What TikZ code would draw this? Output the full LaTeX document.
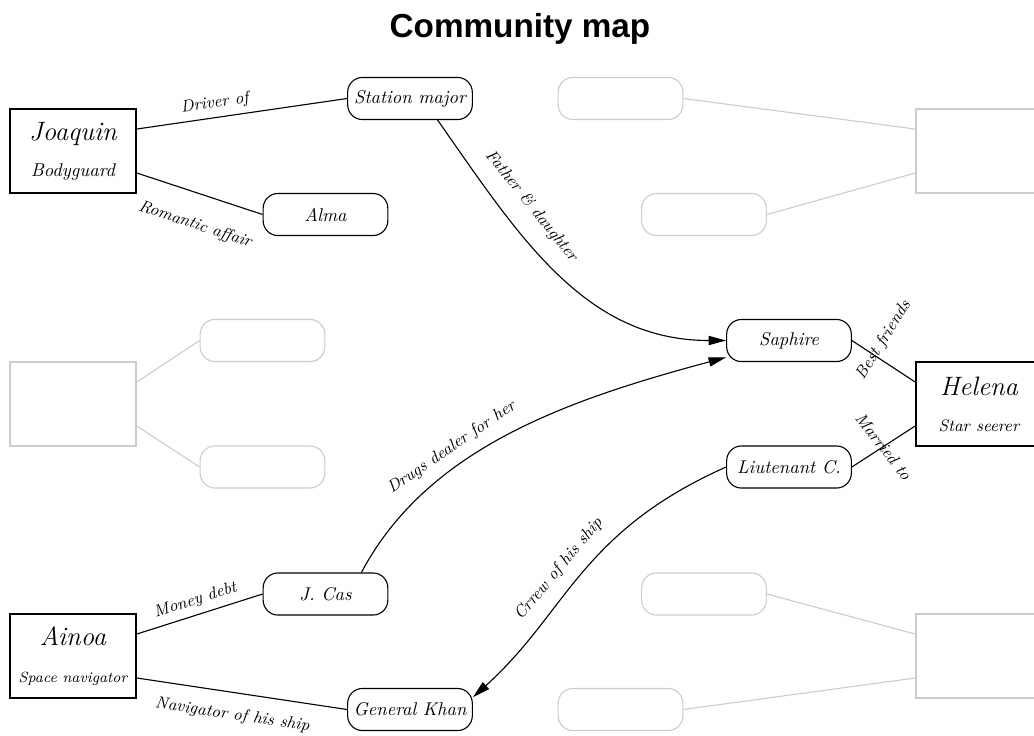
\documentclass[tikz,border=0pt]{standalone}
\usepackage{fontspec}
\newfontfamily\titlefont{Liberation Sans}
\usetikzlibrary{arrows.meta}
\begin{document}
\begin{tikzpicture}[x=0.019011cm, y=0.019011cm,
  rnode/.style={draw, rounded corners=8pt, minimum width=2.37cm, minimum height=0.8cm, font=\itshape, line width=0.6pt, inner sep=1pt},
  bigbox/.style={draw, line width=1.1pt, minimum width=2.39cm, minimum height=1.6cm, align=center, font=\itshape, inner sep=1pt},
  grayr/.style={rnode, draw=black!20},
  grayb/.style={bigbox, draw=black!20},
  link/.style={line width=0.6pt},
  glink/.style={draw=black!20, line width=0.6pt},
  arr/.style={link, -{Triangle[length=9.5pt,width=5pt]}},
  lbl/.style={font=\small\itshape},
  ttl/.style={font=\titlefont\bfseries\fontsize{18}{22}\selectfont, anchor=base, inner sep=0pt}]
\useasboundingbox (0,0) rectangle (1034,-735);
\node[ttl] (title) at (520,-37) {Community map};

\node[bigbox] (joaquin) at (73,-151) {{\Large Joaquin}\\[7.5pt]Bodyguard};
\node[rnode] (station) at (410,-98.5) {Station major};
\node[rnode] (alma) at (325.5,-214.5) {Alma};

\node[grayb] (gtr) at (979,-151) {};
\node[grayr] (ga) at (620.5,-98.5) {};
\node[grayr] (gb) at (704,-214.5) {};

\node[grayb] (gl) at (73,-404) {};
\node[grayr] (gla) at (262.5,-340.5) {};
\node[grayr] (glb) at (262.5,-467) {};

\node[bigbox] (helena) at (979,-404) {{\Large Helena}\\[7.5pt]{\small Star seerer}};
\node[rnode] (saphire) at (789,-340.5) {Saphire};
\node[rnode] (liut) at (789,-467) {Liutenant C.};

\node[bigbox] (ainoa) at (73,-656) {{\Large Ainoa}\\[8pt]{\footnotesize Space navigator}};
\node[rnode] (jcas) at (325.5,-594) {J. Cas};
\node[rnode] (khan) at (410,-709.5) {General Khan};

\node[grayb] (gbr) at (979,-656) {};
\node[grayr] (gc) at (704,-594) {};
\node[grayr] (gd) at (620.5,-709.5) {};

\draw[link] (joaquin.19) -- (station.west) node[lbl, sloped, above, pos=.38] {Driver of};
\draw[link] (joaquin.-19) -- (alma.west) node[lbl, sloped, below=9pt, pos=.54] {Romantic affair};
\draw[arr] (station.-38) to[out=-55, in=180] node[lbl, sloped, above=6pt, pos=.31] {Father \& daughter} (saphire.west);
\draw[arr] (jcas.31) to[out=62, in=195, out looseness=0.85] node[lbl, sloped, above=2pt, pos=.37] {Drugs dealer for her} (saphire.195);
\draw[arr] (liut.west) to[out=204, in=42, out looseness=1.2, in looseness=0.95] node[lbl, sloped, above=3pt, pos=.53] {Crrew of his ship} (khan.11);
\draw[link] (saphire.east) -- (helena.161) node[lbl, pos=.5, yshift=0.4cm, rotate=58] {Best friends};
\draw[link] (liut.east) -- (helena.-161) node[lbl, pos=.5, rotate=-52] {Married to};
\draw[link] (ainoa.19) -- (jcas.west) node[lbl, sloped, above, pos=.5] {Money debt};
\draw[link] (ainoa.-19) -- (khan.west) node[lbl, sloped, below=4.5pt, pos=.47] {Navigator of his ship};

\draw[glink] (gtr.161) -- (ga.east);
\draw[glink] (gtr.-161) -- (gb.east);
\draw[glink] (gl.19) -- (gla.west);
\draw[glink] (gl.-19) -- (glb.west);
\draw[glink] (gbr.161) -- (gc.east);
\draw[glink] (gbr.-161) -- (gd.east);
\end{tikzpicture}
\end{document}
